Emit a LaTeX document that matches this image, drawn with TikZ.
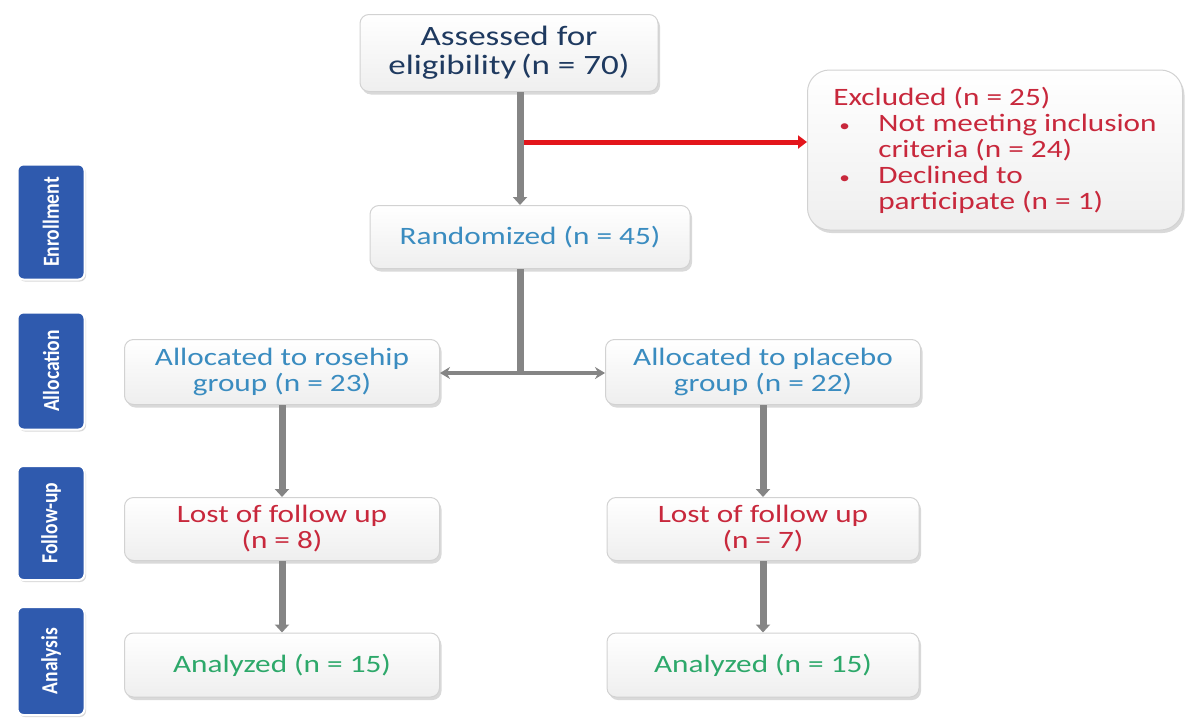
\documentclass[tikz,border=0pt]{standalone}
\usepackage{fontspec}
\setmainfont[FakeStretch=1.25]{Carlito}
\newfontfamily\sidefont[FakeStretch=0.85]{Carlito}
\usetikzlibrary{shadows,arrows.meta}
\definecolor{navytxt}{HTML}{1F3A60}
\definecolor{bluetxt}{HTML}{3A8CC0}
\definecolor{redtxt}{HTML}{C8283C}
\definecolor{greentxt}{HTML}{2DA86A}
\definecolor{sideblue}{HTML}{2F5AAE}
\definecolor{redarr}{HTML}{E3151B}
\definecolor{arrgray}{HTML}{858585}
\newcommand{\smbul}{{\fontsize{17}{17}\selectfont\textbullet}}
\begin{document}
\begin{tikzpicture}[x=1pt,y=-1pt,
  box/.style={draw=gray!35, line width=1pt, rounded corners=9pt, top color=white, bottom color=gray!13,
    drop shadow={shadow xshift=2pt,shadow yshift=-3pt,opacity=0.3,fill=gray},
    align=center, inner sep=2pt, font=\fontsize{25}{26}\selectfont},
  side/.style={draw=white, line width=2pt, fill=sideblue, rounded corners=6pt,
    drop shadow={shadow xshift=1.5pt,shadow yshift=-2pt,opacity=0.3,fill=gray},
    text=white, font=\sidefont\bfseries\fontsize{23}{24}\selectfont, rotate=90, minimum height=67pt, inner sep=0pt},
  garrow/.style={draw=arrgray, line width=7pt, -{Triangle[length=8pt,width=14pt]}},
  gline/.style={draw=arrgray, line width=7pt},
  harrow/.style={draw=arrgray, line width=3.5pt, {Stealth[length=10pt,width=12pt]}-{Stealth[length=10pt,width=12pt]}},
  rarrow/.style={draw=redarr, line width=5pt, -{Triangle[length=9pt,width=13pt]}}
]
\useasboundingbox (0,0) rectangle (1185,720);

% side labels
\node[side, minimum width=115pt] (enr) at (51,222) {Enrollment};
\node[side, minimum width=117pt] (alo) at (51,371) {Allocation};
\node[side, minimum width=114pt] (fol) at (51,523) {Follow-up};
\node[side, minimum width=108pt] (ana) at (51,661) {Analysis};

% boxes
\node[box, minimum width=298pt, minimum height=77pt, text=navytxt, font=\fontsize{28}{29}\selectfont] (assess) at (509,53) {Assessed for\\eligibility\,(n = 70)};
\node[box, minimum width=375pt, minimum height=160pt, rounded corners=22pt, text=redtxt, align=left] (excl) at (995,150)
  {Excluded (n = 25)\\
   \makebox[45pt][l]{\hspace{6pt}\smbul}Not meeting inclusion\\
   \hspace*{45pt}criteria (n = 24)\\
   \makebox[45pt][l]{\hspace{6pt}\smbul}Declined to\\
   \hspace*{45pt}participate (n = 1)};
\node[box, minimum width=320pt, minimum height=63pt, text=bluetxt] (rand) at (530,237) {Randomized (n = 45)};
\node[box, minimum width=315pt, minimum height=65pt, text=bluetxt] (allocL) at (282,372) {Allocated to rosehip\\group (n = 23)};
\node[box, minimum width=315pt, minimum height=65pt, text=bluetxt] (allocR) at (763,372) {Allocated to placebo\\group (n = 22)};
\node[box, minimum width=315pt, minimum height=63pt, text=redtxt] (lostL) at (282,529) {Lost of follow up\\(n = 8)};
\node[box, minimum width=312pt, minimum height=63pt, text=redtxt] (lostR) at (763,529) {Lost of follow up\\(n = 7)};
\node[box, minimum width=315pt, minimum height=64pt, text=greentxt] (anaL) at (282,665) {Analyzed (n = 15)};
\node[box, minimum width=312pt, minimum height=64pt, text=greentxt] (anaR) at (763,665) {Analyzed (n = 15)};

% connectors
\coordinate (trunk) at (520,0);
\coordinate (rsrc) at (524,142);
\coordinate (split) at (520,373);
\draw[garrow] (trunk |- assess.south) -- (trunk |- rand.north);
\draw[rarrow] (rsrc) -- (rsrc -| excl.west);
\draw[gline] (trunk |- rand.south) -- (split);
\draw[harrow] (allocL.east |- split) -- (allocR.west |- split);
\draw[garrow] (allocL.south) -- (lostL.north);
\draw[garrow] (lostL.south) -- (anaL.north);
\draw[garrow] (allocR.south) -- (lostR.north);
\draw[garrow] (lostR.south) -- (anaR.north);
\end{tikzpicture}
\end{document}
